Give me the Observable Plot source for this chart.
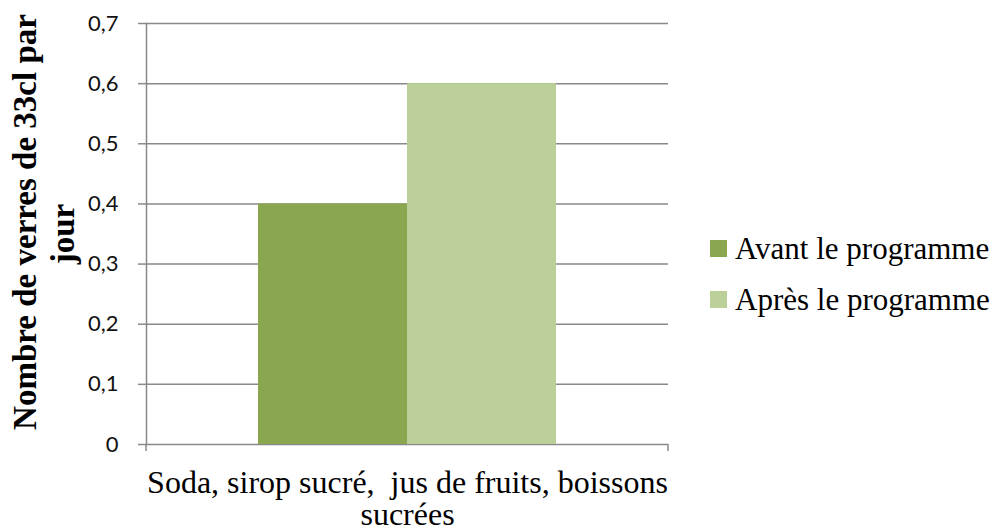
<!DOCTYPE html>
<html>
<head>
<meta charset="utf-8">
<script src="https://cdn.jsdelivr.net/npm/d3@7"></script>
<script src="https://cdn.jsdelivr.net/npm/@observablehq/plot@0.6"></script>
<style>
  html, body { margin: 0; padding: 0; background: #fff; }
  #wrap { position: relative; width: 1003px; height: 531px; overflow: hidden; }
  #legend { position: absolute; left: 710px; top: 223px; font-family: "Liberation Serif", "Times New Roman", serif; font-size: 31px; color: #000; }
  .row { display: flex; align-items: center; height: 51px; white-space: nowrap; }
  .sw { width: 17px; height: 17px; margin-right: 8px; flex: none; }
</style>
</head>
<body>
<div id="wrap"><div id="legend"></div></div>
<script>
const series = ["Avant le programme", "Après le programme"];
const values = [0.4, 0.6];
const colors = ["#8aa64f", "#bad098"];
const xLabelLines = ["Soda, sirop sucré,  jus de fruits, boissons", "sucrées"];
const yLabelLines = ["Nombre de verres de 33cl par", "jour"];
const yTicks = [0, 0.1, 0.2, 0.3, 0.4, 0.5, 0.6, 0.7];
const yTickLabels = ["0", "0,1", "0,2", "0,3", "0,4", "0,5", "0,6", "0,7"];

const data = series.map((s, i) => ({series: s, value: values[i]}));
const tickFmt = d => yTickLabels[yTicks.findIndex(t => Math.abs(t - d) < 1e-9)];
const grid = "#898989";
const serif = "'Liberation Serif', 'Times New Roman', serif";

const chart = Plot.plot({
  width: 1003,
  height: 531,
  marginLeft: 146,
  marginRight: 335,
  marginTop: 23,
  marginBottom: 87,
  style: {background: "#fff"},
  x: {domain: series, paddingInner: 0, paddingOuter: 0.746, axis: null},
  y: {domain: [0, 0.7]},
  color: {domain: series, range: colors},
  marks: [
    Plot.ruleY(yTicks, {stroke: grid, strokeWidth: 1.5}),
    Plot.barY(data, {x: "series", y: "value", fill: "series", inset: 0}),
    Plot.frame({anchor: "left", stroke: grid, strokeWidth: 1.5}),
    Plot.axisY(yTicks, {
      tickSize: 8, tickPadding: 20, stroke: grid, strokeWidth: 1.5,
      tickFormat: tickFmt, fontSize: 22, fill: "#111",
      fontFamily: "Lato, 'Open Sans', sans-serif", label: null
    }),
    // end tick marks of the category axis
    (index, scales, values, dims) => {
      const g = document.createElementNS("http://www.w3.org/2000/svg", "g");
      const y0 = dims.height - dims.marginBottom;
      for (const x of [dims.marginLeft, dims.width - dims.marginRight]) {
        const l = document.createElementNS("http://www.w3.org/2000/svg", "line");
        l.setAttribute("x1", x); l.setAttribute("x2", x);
        l.setAttribute("y1", y0); l.setAttribute("y2", y0 + 7);
        l.setAttribute("stroke", grid); l.setAttribute("stroke-width", 1.5);
        g.appendChild(l);
      }
      return g;
    },
    Plot.text([xLabelLines.join("\n")], {
      frameAnchor: "bottom", lineAnchor: "top", textAnchor: "middle", dy: 25, lineHeight: 1.02,
      fontSize: 32, fontFamily: serif, fill: "#000"
    }),
    Plot.text([yLabelLines[0]], {
      frameAnchor: "left", textAnchor: "middle", rotate: -90, dx: -121, dy: -12,
      fontSize: 33, fontWeight: "bold", fontFamily: serif, fill: "#000"
    }),
    Plot.text([yLabelLines[1]], {
      frameAnchor: "left", textAnchor: "middle", rotate: -90, dx: -83, dy: 0,
      fontSize: 33, fontWeight: "bold", fontFamily: serif, fill: "#000"
    })
  ]
});

const wrap = document.getElementById("wrap");
wrap.insertBefore(chart, wrap.firstChild);

const legend = document.getElementById("legend");
series.forEach((s, i) => {
  const row = document.createElement("div");
  row.className = "row";
  const sw = document.createElement("span");
  sw.className = "sw";
  sw.style.background = colors[i];
  const t = document.createElement("span");
  t.textContent = s;
  row.appendChild(sw);
  row.appendChild(t);
  legend.appendChild(row);
});
</script>
</body>
</html>
